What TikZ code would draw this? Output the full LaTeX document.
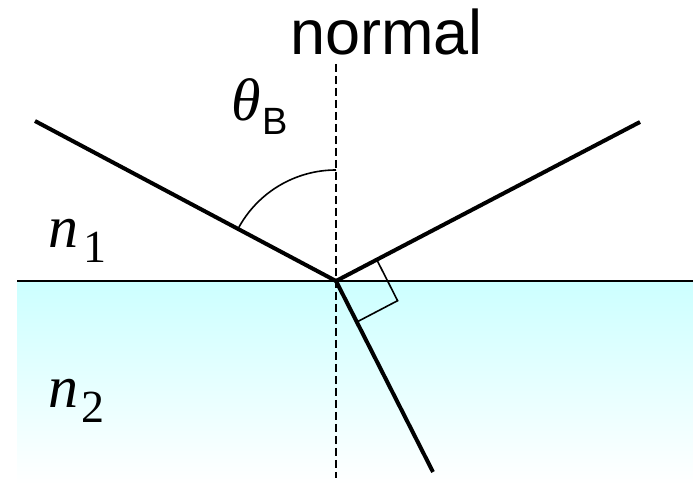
\documentclass[tikz,border=0pt]{standalone}
\usepackage{fontspec}
\setmainfont{Liberation Serif}
\newfontfamily\arialf{Liberation Sans}
\usetikzlibrary{calc}
\definecolor{watertop}{RGB}{204,255,255}
\begin{document}
\begin{tikzpicture}[x=1pt,y=1pt,
  ray/.style={line width=4pt},
  fineline/.style={line width=1.6pt},
  lbl/.style={inner sep=0pt, anchor=base west}]
\useasboundingbox (0,0) rectangle (693,484);
% medium 2
\shade[top color=watertop, bottom color=white] (17,0) rectangle (693,203);
\coordinate (L) at (17,203);
\coordinate (R) at (693,203);
\draw[line width=1.7pt] (L) -- (R);
% normal
\coordinate (O) at (336,203);
\coordinate (NT) at (336,420);
\coordinate (NB) at (336,6);
\draw[fineline, dash pattern=on 8pt off 4pt] (NT) -- (NB);
% rays
\coordinate (I) at (35,363);
\coordinate (Rf) at (640,362);
\coordinate (T) at (433,12);
\draw[ray] (I) -- (O);
\draw[ray] (O) -- (Rf);
\draw[ray] (O) -- (T);
% angle arc
\draw[fineline] ($(O)+(152:111)$) arc[start angle=152, end angle=90, radius=111];
% right-angle mark
\coordinate (A1) at ($(O)!46pt!(Rf)$);
\coordinate (A2) at ($(O)!46pt!(T)$);
\coordinate (A3) at ($(A1)+(A2)-(O)$);
\draw[fineline] (A1) -- (A3) -- (A2);
% labels
\node[lbl] (normal) at (290,429) {\arialf\fontsize{63}{63}\selectfont normal};
\node[lbl] (theta) at (231,363) {\fontsize{60}{60}\selectfont\itshape θ};
\node[lbl] (thetaB) at (262,349) {\arialf\fontsize{38}{38}\selectfont B};
\node[lbl] (n1) at (48,236) {\fontsize{60}{60}\selectfont\itshape n};
\node[lbl] (n1s) at (83,221) {\fontsize{46}{46}\selectfont 1};
\node[lbl] (n2) at (48,76) {\fontsize{60}{60}\selectfont\itshape n};
\node[lbl] (n2s) at (81,61) {\fontsize{46}{46}\selectfont 2};
\end{tikzpicture}
\end{document}
